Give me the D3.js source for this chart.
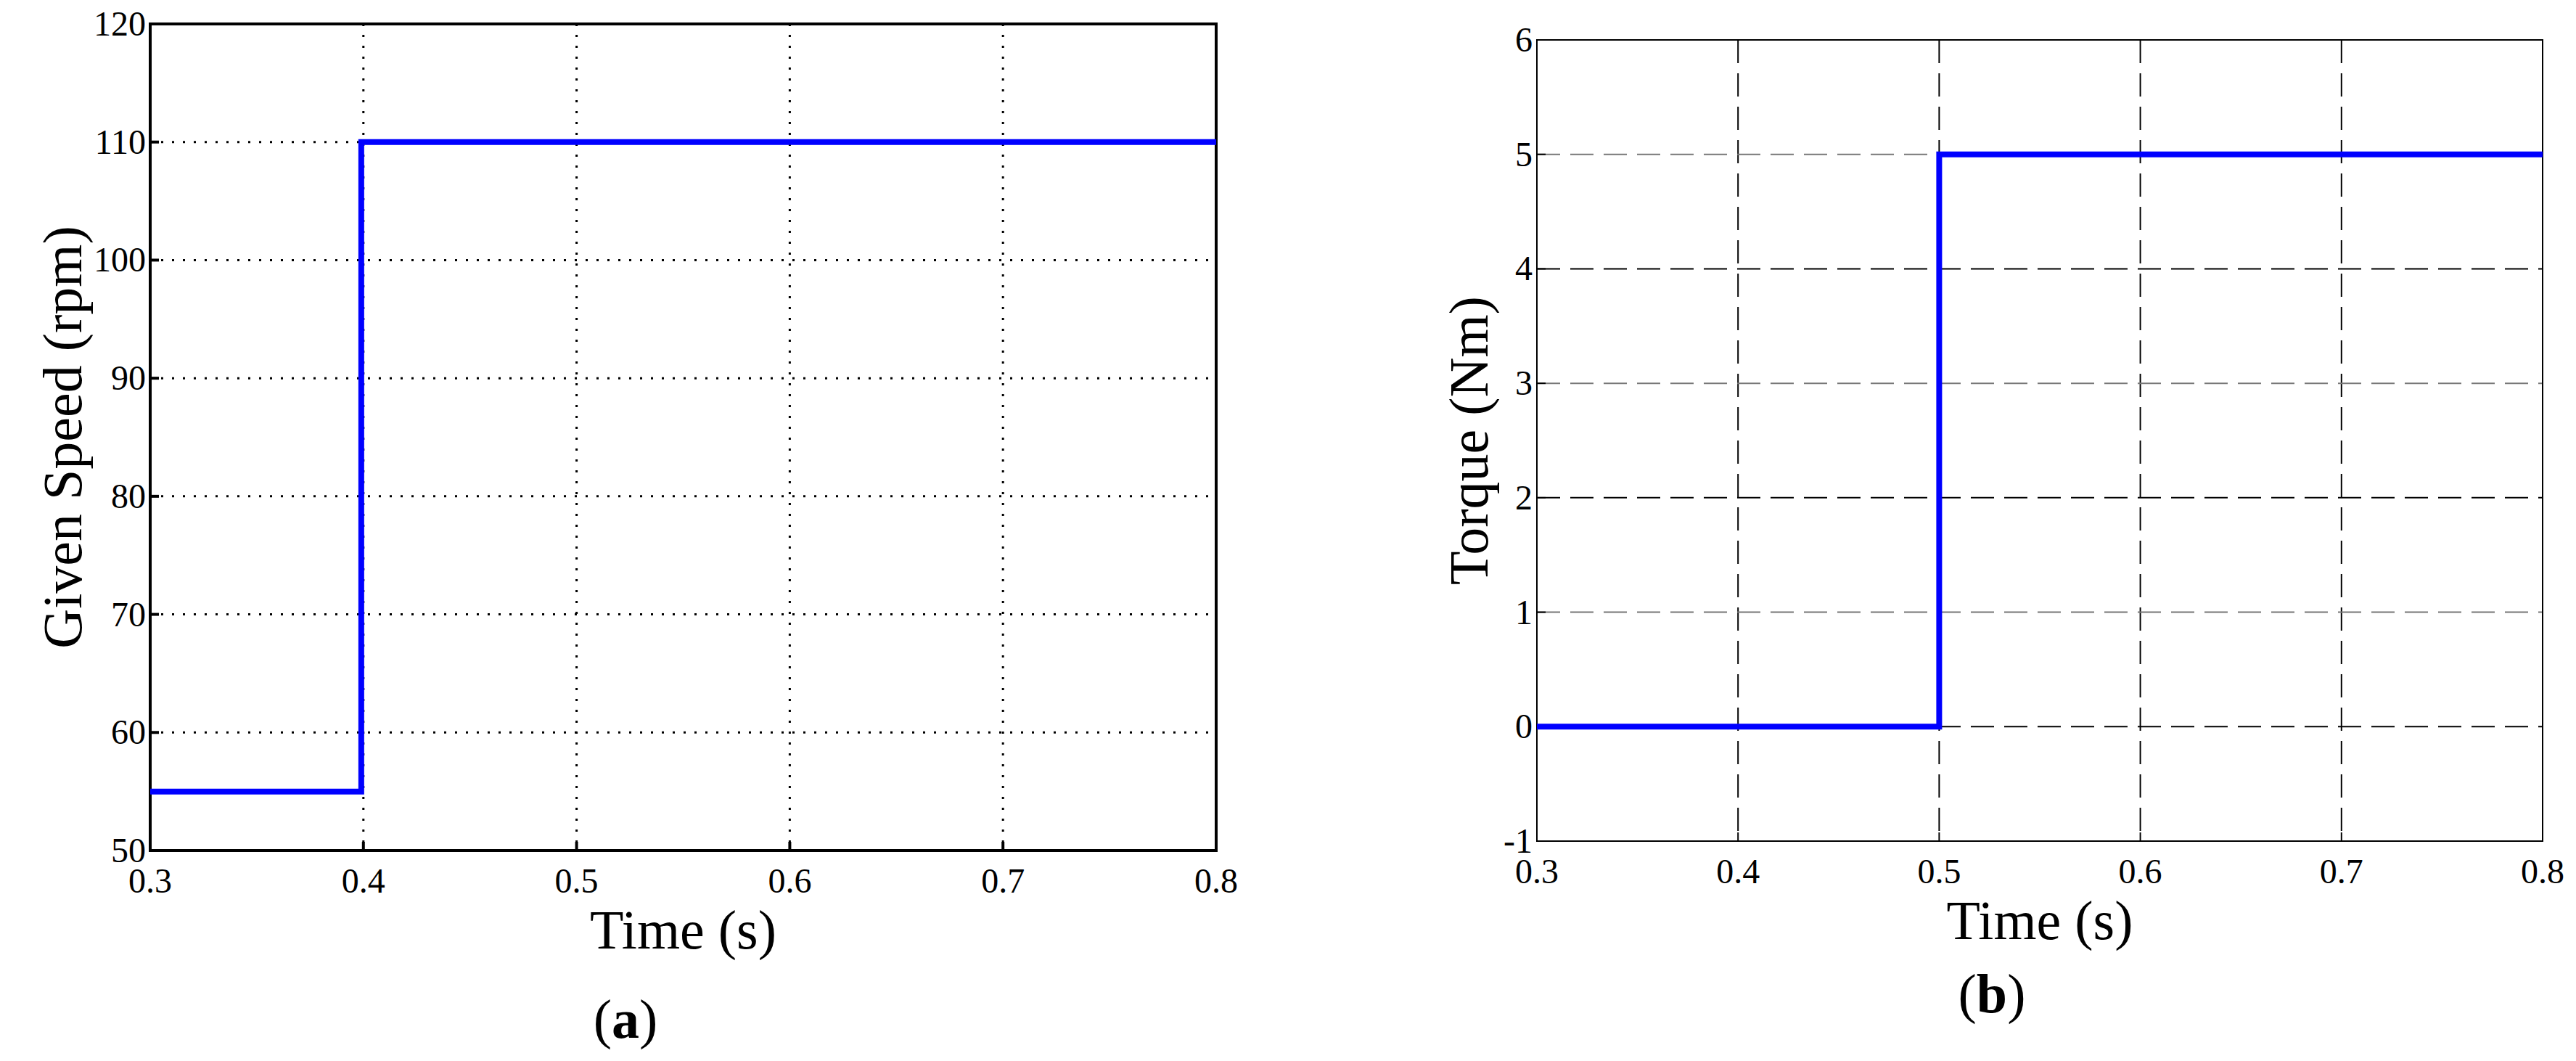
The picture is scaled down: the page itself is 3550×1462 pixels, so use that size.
<!DOCTYPE html>
<html lang="en">
<head>
<meta charset="UTF-8" />
<title>Given speed and torque</title>
<style>
  body { margin: 0; background: #fff; }
  text { font-family: "Liberation Serif", "DejaVu Serif", serif; fill: #000; }
</style>
</head>
<body>
<svg id="chart" width="3550" height="1462"></svg>
<script src="https://cdnjs.cloudflare.com/ajax/libs/d3/7.8.4/d3.min.js"></script>
<script>
  // panel (a): given speed step
  const speedTime = [0.3, 0.399, 0.399, 0.8];
  const speedValue = [55, 55, 110, 110];
  const speedTicks = [50, 60, 70, 80, 90, 100, 110, 120];
  // panel (b): load torque step
  const torqueTime = [0.3, 0.5, 0.5, 0.8];
  const torqueValue = [0, 0, 5, 5];
  const torqueTicks = [-1, 0, 1, 2, 3, 4, 5, 6];
  const timeTicks = [0.3, 0.4, 0.5, 0.6, 0.7, 0.8];

  const svg = d3.select("#chart");

  function panel(o) {
    const x = d3.scaleLinear().domain([0.3, 0.8]).range([o.left, o.right]);
    const y = d3.scaleLinear().domain(o.yDomain).range([o.bottom, o.top]);
    const g = svg.append("g");

    // grid
    g.selectAll(".vg").data(timeTicks.slice(1, -1)).enter().append("line")
      .attr("x1", d => x(d)).attr("x2", d => x(d))
      .attr("y1", o.top).attr("y2", o.bottom)
      .attr("stroke", "#000").attr("stroke-width", o.gridW)
      .attr("stroke-dasharray", o.dash);
    g.selectAll(".hg").data(o.yTicks.slice(1, -1)).enter().append("line")
      .attr("x1", o.left).attr("x2", o.right)
      .attr("y1", d => y(d)).attr("y2", d => y(d))
      .attr("stroke", (d, i) => o.hColor(i)).attr("stroke-width", o.gridW)
      .attr("stroke-dasharray", o.dash);

    // frame
    g.append("rect").attr("x", o.left).attr("y", o.top)
      .attr("width", o.right - o.left).attr("height", o.bottom - o.top)
      .attr("fill", "none").attr("stroke", "#000").attr("stroke-width", o.frameW);

    // inward ticks
    g.selectAll(".yt").data(o.yTicks).enter().append("line")
      .attr("x1", o.left).attr("x2", o.left + 12)
      .attr("y1", d => y(d)).attr("y2", d => y(d))
      .attr("stroke", "#000").attr("stroke-width", o.frameW);
    g.selectAll(".xt").data(timeTicks).enter().append("line")
      .attr("x1", d => x(d)).attr("x2", d => x(d))
      .attr("y1", o.bottom).attr("y2", o.bottom - 12)
      .attr("stroke", "#000").attr("stroke-width", o.frameW);

    // tick labels
    g.selectAll(".yl").data(o.yTicks).enter().append("text")
      .attr("x", o.left - 6).attr("y", d => y(d) + 16)
      .attr("text-anchor", "end").attr("font-size", 48)
      .text(d => d);
    g.selectAll(".xl").data(timeTicks).enter().append("text")
      .attr("x", d => x(d)).attr("y", o.bottom + 58)
      .attr("text-anchor", "middle").attr("font-size", 48)
      .text(d => d.toFixed(1));

    // step line
    const pts = o.t.map((t, i) => [t, o.v[i]]);
    g.append("path").datum(pts)
      .attr("d", d3.line().x(d => x(d[0])).y(d => y(d[1])))
      .attr("fill", "none").attr("stroke", "#0000ff").attr("stroke-width", 8);

    // titles
    g.append("text").attr("x", (o.left + o.right) / 2).attr("y", o.bottom + 135)
      .attr("text-anchor", "middle").attr("font-size", 76).text("Time (s)");
    g.append("text")
      .attr("transform", `translate(${o.yLabelX},${(o.top + o.bottom) / 2}) rotate(-90)`)
      .attr("text-anchor", "middle").attr("font-size", 76).text(o.yLabel);
    const cap = g.append("text").attr("x", o.capX).attr("y", o.capY)
      .attr("text-anchor", "middle").attr("font-size", 76);
    cap.append("tspan").text("(");
    cap.append("tspan").attr("font-weight", "bold").text(o.cap);
    cap.append("tspan").text(")");
  }

  panel({
    left: 207, right: 1676, top: 33, bottom: 1172,
    yDomain: [50, 120], yTicks: speedTicks, t: speedTime, v: speedValue,
    dash: "3,12", gridW: 3, frameW: 4, hColor: () => "#000",
    yLabel: "Given Speed (rpm)", yLabelX: 112, cap: "a", capX: 862, capY: 1430
  });

  panel({
    left: 2118, right: 3504, top: 55, bottom: 1159,
    yDomain: [-1, 6], yTicks: torqueTicks, t: torqueTime, v: torqueValue,
    dash: "32,14", gridW: 2, frameW: 2, hColor: i => (i % 2 === 0 ? "#000" : "#777"),
    yLabel: "Torque (Nm)", yLabelX: 2050, cap: "b", capX: 2745, capY: 1395
  });
</script>
</body>
</html>
